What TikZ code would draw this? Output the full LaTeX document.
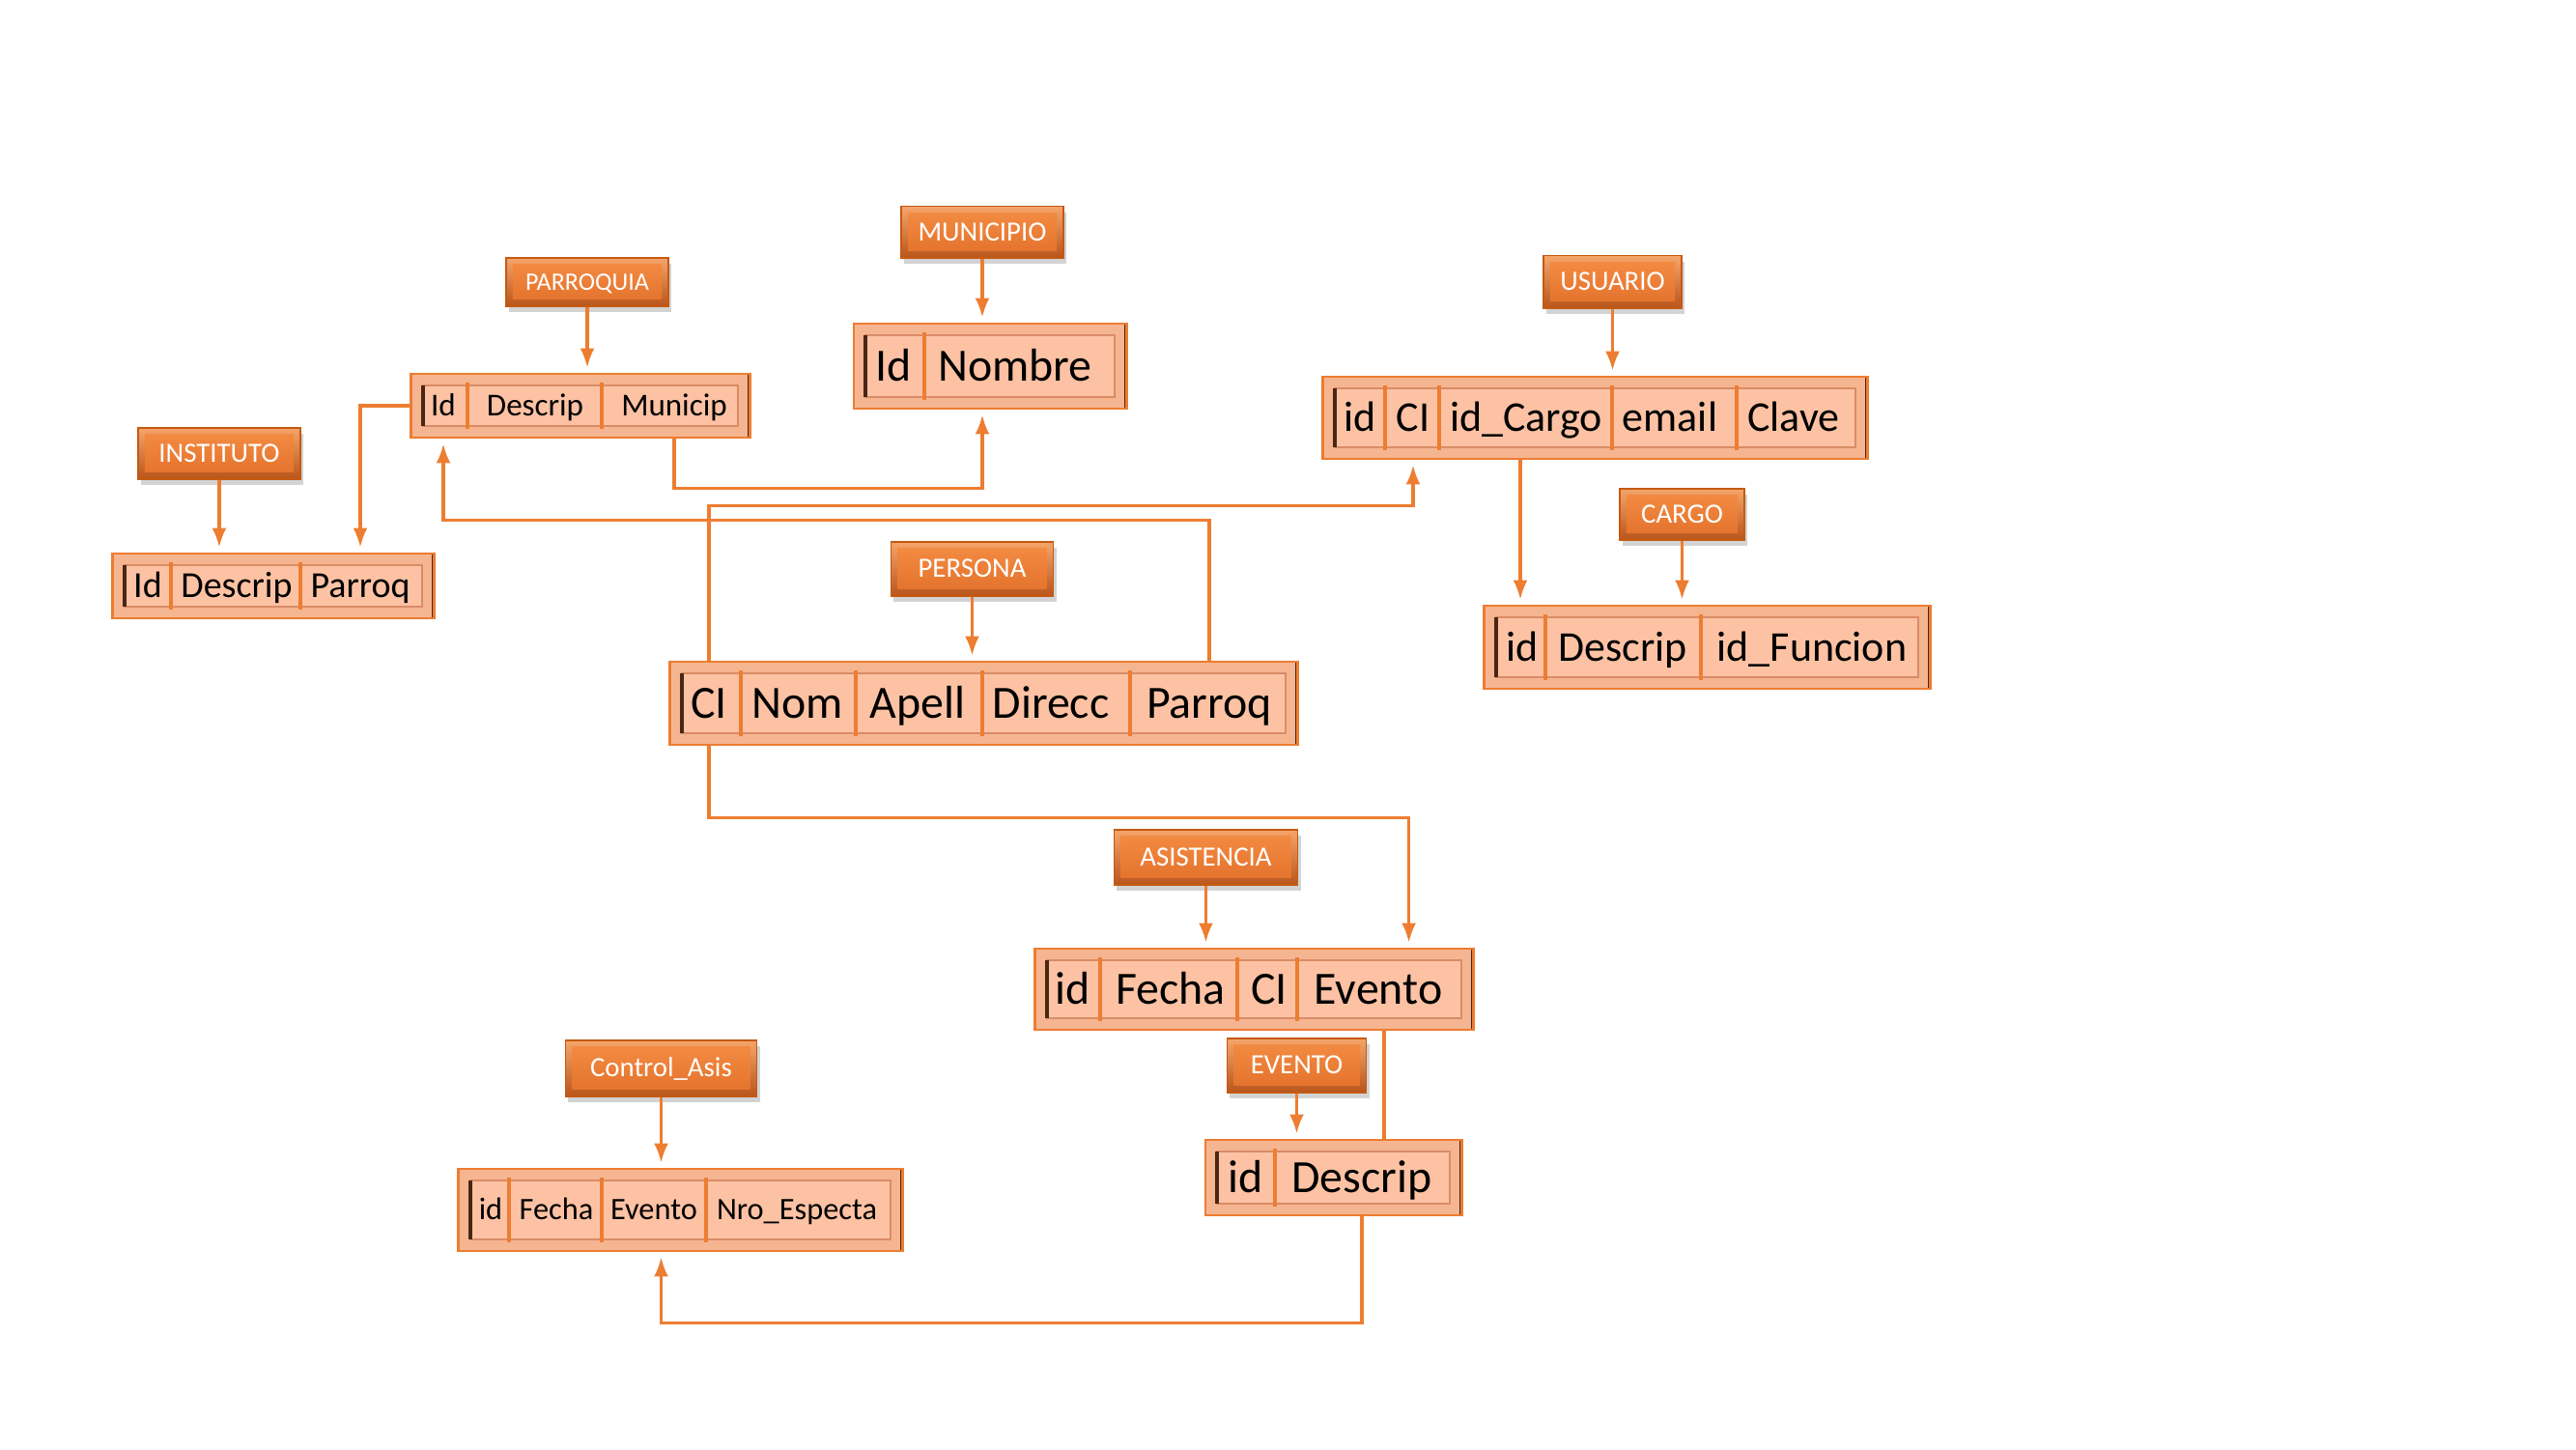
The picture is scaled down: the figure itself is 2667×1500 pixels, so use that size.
\documentclass[tikz,border=0pt]{standalone}
\usepackage{fontspec}
\setmainfont{Carlito}
\usetikzlibrary{arrows.meta,positioning,shadows}

\definecolor{conector}{HTML}{ED7D31}
\definecolor{lblborde}{HTML}{C55A11}
\definecolor{lbltop}{HTML}{F5A56B}
\definecolor{lblbottom}{HTML}{B9561C}
\definecolor{lblclaro}{HTML}{F58E45}
\definecolor{lblcentro}{HTML}{E2702A}
\definecolor{tabfondo}{HTML}{F6B591}
\definecolor{tabpanel}{HTML}{FCC2A3}
\definecolor{tabborde}{HTML}{ED7D31}
\definecolor{tabmarco}{HTML}{D98C66}
\definecolor{oscuro}{HTML}{4A2614}

% separadores verticales de una tabla
\newcommand{\divisores}[2]{\foreach \x in {#2}{\draw[divisor] ([yshift=-0.1cm]\x,0 |- #1.north) -- ([yshift=0.1cm]\x,0 |- #1.south);}}

\begin{document}
\begin{tikzpicture}[
  x=0.01cm, y=-0.01cm,
  every node/.style={align=center},
  etiqueta/.style={draw=lblborde,line width=0.5pt,top color=lbltop,bottom color=lblbottom,
    text=white,font=\fontsize{8.2}{10}\selectfont,inner sep=0pt,text height=5.3pt,text depth=0pt,
    drop shadow={opacity=0.35,shadow xshift=0.03cm,shadow yshift=-0.06cm},
    path picture={\shade[top color=lblclaro,bottom color=lblcentro]
      ([shift={(0.07cm,0.07cm)}]path picture bounding box.south west) rectangle
      ([shift={(-0.07cm,-0.07cm)}]path picture bounding box.north east);}},
  tabla/.style={draw=tabborde,line width=0.8pt,fill=tabfondo,
    path picture={
      \draw[tabmarco,fill=tabpanel,line width=0.6pt]
        ([shift={(0.12cm,0.12cm)}]path picture bounding box.south west) rectangle
        ([shift={(-0.12cm,-0.12cm)}]path picture bounding box.north east);
      \draw[oscuro,line width=1pt]
        ([shift={(0.12cm,0.12cm)}]path picture bounding box.south west) --
        ([shift={(0.12cm,-0.12cm)}]path picture bounding box.north west);
      \draw[oscuro,line width=1.4pt]
        (path picture bounding box.south east) -- (path picture bounding box.north east);}},
  campo/.style={inner sep=0pt,text=black},
  campoG/.style={campo,font=\fontsize{13.6}{16}\selectfont,text height=8.8pt,text depth=0pt},
  campoU/.style={campo,font=\fontsize{12.5}{15}\selectfont,text height=8.05pt,text depth=0pt},
  campoI/.style={campo,font=\fontsize{10.8}{13}\selectfont,text height=6.95pt,text depth=0pt},
  campoP/.style={campo,font=\fontsize{9.4}{11}\selectfont,text height=6.05pt,text depth=0pt},
  campoC/.style={campo,font=\fontsize{9.2}{11}\selectfont,text height=5.9pt,text depth=0pt},
  divisor/.style={draw=tabborde,line width=0.9pt},
  arr/.style={-{Latex[length=0.2cm,width=0.15cm]},draw=conector,line width=0.9pt,shorten >=0.05cm},
  conn/.style={draw=conector,line width=0.9pt}
]
\useasboundingbox (0,0) rectangle (2667,1500);

% ============================================================
% TABLAS
% ============================================================

\node[tabla,minimum width=3.50cm,minimum height=0.66cm] (parroquia) at (601,420) {};
\node[tabla,minimum width=3.32cm,minimum height=0.67cm] (instituto) at (283,606.5) {};
\node[tabla,minimum width=2.82cm,minimum height=0.88cm] (municipio) at (1025,379) {};
\node[tabla,minimum width=6.49cm,minimum height=0.86cm] (persona) at (1018.5,728) {};
\node[tabla,minimum width=5.63cm,minimum height=0.85cm] (usuario) at (1651.5,432.5) {};
\node[tabla,minimum width=4.61cm,minimum height=0.86cm] (cargo) at (1767.5,670) {};
\node[tabla,minimum width=4.53cm,minimum height=0.84cm] (asistencia) at (1298.5,1024) {};
\node[tabla,minimum width=2.65cm,minimum height=0.78cm] (evento) at (1380.5,1219) {};
\node[tabla,minimum width=4.59cm,minimum height=0.85cm] (control) at (704.5,1252.5) {};

\divisores{parroquia}{484,623}
\divisores{instituto}{177,311}
\divisores{municipio}{957}
\divisores{persona}{767,886,1017,1170}
\divisores{usuario}{1434,1490,1669,1798}
\divisores{cargo}{1600,1761}
\divisores{asistencia}{1139,1281,1343}
\divisores{evento}{1320}
\divisores{control}{527,623,731}

% campos
\node[campoP] (paId) at (459,0 |- parroquia) {Id};
\node[campoP] (paDescrip) at (554,0 |- parroquia) {Descrip};
\node[campoP] (paMunicip) at (698,0 |- parroquia) {Municip};

\node[campoI] (inId) at (153,0 |- instituto) {Id};
\node[campoI] (inDescrip) at (245,0 |- instituto) {Descrip};
\node[campoI] (inParroq) at (373,0 |- instituto) {Parroq};

\node[campoG] (muId) at (925,0 |- municipio) {Id};
\node[campoG] (muNombre) at (1051,0 |- municipio) {Nombre};

\node[campoG] (peCI) at (734,0 |- persona) {CI};
\node[campoG] (peNom) at (826,0 |- persona) {Nom};
\node[campoG] (peApell) at (950,0 |- persona) {Apell};
\node[campoG] (peDirecc) at (1088,0 |- persona) {Direcc};
\node[campoG] (peParroq) at (1252,0 |- persona) {Parroq};

\node[campoU] (usId) at (1408,0 |- usuario) {id};
\node[campoU] (usCI) at (1463,0 |- usuario) {CI};
\node[campoU] (usCargo) at (1580,0 |- usuario) {id\_Cargo};
\node[campoU] (usEmail) at (1729,0 |- usuario) {email};
\node[campoU] (usClave) at (1857,0 |- usuario) {Clave};

\node[campoU] (caId) at (1576,0 |- cargo) {id};
\node[campoU] (caDescrip) at (1680,0 |- cargo) {Descrip};
\node[campoU] (caFuncion) at (1876,0 |- cargo) {id\_Funcion};

\node[campoG] (asId) at (1111,0 |- asistencia) {id};
\node[campoG] (asFecha) at (1212,0 |- asistencia) {Fecha};
\node[campoG] (asCI) at (1314,0 |- asistencia) {CI};
\node[campoG] (asEvento) at (1427,0 |- asistencia) {Evento};

\node[campoG] (evId) at (1290,0 |- evento) {id};
\node[campoG] (evDescrip) at (1410,0 |- evento) {Descrip};

\node[campoC] (coId) at (508,0 |- control) {id};
\node[campoC] (coFecha) at (576,0 |- control) {Fecha};
\node[campoC] (coEvento) at (677,0 |- control) {Evento};
\node[campoC] (coNro) at (825,0 |- control) {Nro\_Especta};

% ============================================================
% ETIQUETAS
% ============================================================

\node[etiqueta,minimum width=1.68cm,minimum height=0.50cm,font=\fontsize{7.4}{9}\selectfont,above=0.68cm of parroquia,xshift=0.07cm] (lblParr) {PARROQUIA};
\node[etiqueta,minimum width=1.68cm,minimum height=0.53cm,above=0.75cm of instituto,xshift=-0.56cm] (lblInst) {INSTITUTO};
\node[etiqueta,minimum width=1.68cm,minimum height=0.53cm,above=0.66cm of municipio,xshift=-0.08cm] (lblMun) {MUNICIPIO};
\node[etiqueta,minimum width=1.68cm,minimum height=0.56cm,above=0.66cm of persona,xshift=-0.12cm] (lblPers) {PERSONA};
\node[etiqueta,minimum width=1.43cm,minimum height=0.54cm,above=0.69cm of usuario,xshift=0.18cm] (lblUsu) {USUARIO};
\node[etiqueta,minimum width=1.29cm,minimum height=0.53cm,above=0.66cm of cargo,xshift=-0.26cm] (lblCargo) {CARGO};
\node[etiqueta,minimum width=1.90cm,minimum height=0.57cm,above=0.64cm of asistencia,xshift=-0.5cm] (lblAsis) {ASISTENCIA};
\node[etiqueta,minimum width=1.44cm,minimum height=0.56cm,above=0.47cm of evento,xshift=-0.38cm] (lblEvento) {EVENTO};
\node[etiqueta,minimum width=1.98cm,minimum height=0.58cm,above=0.73cm of control,xshift=-0.2cm] (lblCtrl) {Control\_Asis};

\foreach \e/\t in {lblParr/parroquia,lblInst/instituto,lblMun/municipio,lblPers/persona,lblUsu/usuario,lblCargo/cargo,lblAsis/asistencia,lblEvento/evento,lblCtrl/control}
  \draw[arr] (\e.south) -- (\e.south |- \t.north);

% ============================================================
% RELACIONES
% ============================================================

\draw[arr] (parroquia.west) -| (inParroq |- instituto.north);
\draw[arr] (paMunicip |- parroquia.south) -- ++(0,51) -| (lblMun |- municipio.south);
\draw[arr] (peParroq |- persona.north) -- ++(0,-145) -| (paId |- parroquia.south);
\draw[arr] (peCI |- persona.north) -- ++(0,-160) -| (usCI |- usuario.south);
\draw[arr] (peCI |- persona.south) -- ++(0,74) -| ([xshift=1.6cm]asistencia.north);
\draw[arr] ([xshift=-0.06cm]usCargo |- usuario.south) -- ([xshift=-0.06cm]usCargo |- cargo.north);
\draw[conn] ([xshift=0.06cm]asEvento |- asistencia.south) -- ([xshift=0.06cm]asEvento |- evento.north);
\draw[arr] (evDescrip |- evento.south) -- ++(0,110) -| (lblCtrl |- control.south);

\end{tikzpicture}
\end{document}
